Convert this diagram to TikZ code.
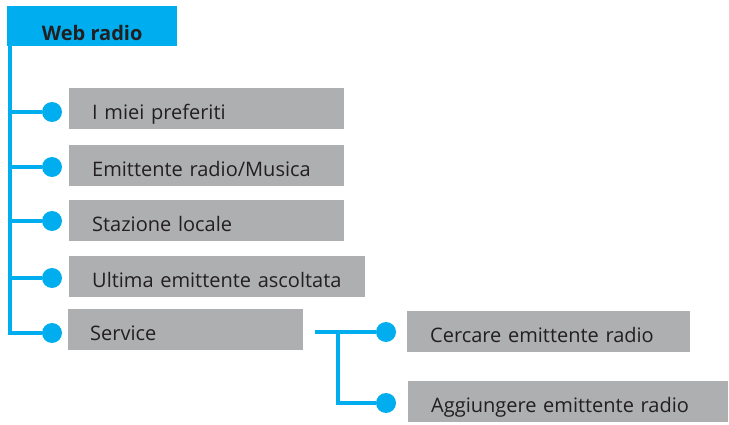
\documentclass[tikz,border=0pt]{standalone}
\usepackage{fontspec}
\setmainfont{Open Sans}
\usetikzlibrary{positioning}
\definecolor{radioblue}{RGB}{0,174,239}
\definecolor{boxgray}{RGB}{173,175,176}
\definecolor{textdark}{RGB}{35,31,32}
\begin{document}
\begin{tikzpicture}[x=1pt, y=-1pt,
    box/.style={rectangle, fill=boxgray, anchor=west, minimum height=41pt,
        inner xsep=23pt, inner ysep=0pt, text height=22pt, text depth=0pt,
        align=left, text=textdark, font=\fontsize{20}{24}\selectfont},
    head/.style={rectangle, fill=radioblue, anchor=north west, minimum width=170pt,
        minimum height=40pt, inner sep=0pt, text height=28pt, text depth=0pt,
        text=textdark, font=\fontsize{20}{24}\selectfont\bfseries},
    dot/.style={circle, fill=radioblue, minimum size=20pt, inner sep=0pt},
    link/.style={radioblue, line width=4.5pt}]
    \useasboundingbox (0,0) rectangle (729,425);

    % Kopf
    \node[head] (web) at (7,6) {Web radio};

    % Menuepunkte
    \node[box, text width=229pt] (pref) at (69,108.5) {I miei preferiti};
    \node[box, text width=229pt] (musica) at (69,166) {Emittente radio/Musica};
    \node[box, text width=229pt] (locale) at (69,221) {Stazione locale};
    \node[box, text width=250pt] (ultima) at (69,276.5) {\mbox{Ultima emittente ascoltata}};
    \node[box, text width=191pt, inner xsep=22pt] (service) at (68,329) {Service};
    \node[box, text width=237pt] (cercare) at (407,331.5) {Cercare emittente radio};
    \node[box, text width=274pt] (aggiungere) at (408,401) {Aggiungere emittente radio};

    % Punkte
    \node[dot] (d1) at (52,112) {};
    \node[dot] (d2) at (52,167) {};
    \node[dot] (d3) at (52,221) {};
    \node[dot] (d4) at (52,278) {};
    \node[dot] (d5) at (52,333) {};
    \node[dot] (d6) at (386,332) {};
    \node[dot] (d7) at (386,403) {};

    % Stamm
    \coordinate (stamm) at ([xshift=3pt]web.south west);
    \draw[link, line width=4pt] (stamm) |- (d5);
    \foreach \d in {d1,d2,d3,d4}
        \draw[link] (\d -| stamm) -- (\d);

    % Zweig Service
    \coordinate (ast) at (315,332);
    \coordinate (gabel) at (338,332);
    \draw[link] (ast) -- (d6);
    \draw[link] (gabel) |- (d7);
\end{tikzpicture}
\end{document}
